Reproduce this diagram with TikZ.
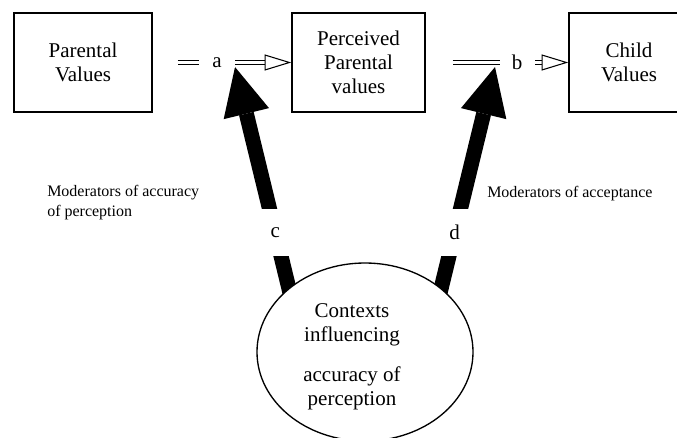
\documentclass[tikz,border=0pt]{standalone}
\usepackage{fontspec}
\setmainfont{Liberation Serif}
\usetikzlibrary{arrows.meta, shapes.geometric}
\pgfdeclarelayer{back}
\pgfsetlayers{back,main}
\newcommand{\valfont}{\fontsize{15.75pt}{18pt}\selectfont}
\newcommand{\modfont}{\fontsize{12pt}{15pt}\selectfont}

\begin{document}
\begin{tikzpicture}[x=0.75pt, y=-0.75pt,
    valbox/.style={draw, line width=1.1pt, minimum height=74.25pt, inner sep=0pt, align=center, font=\valfont},
    hollow/.style={double, line width=0.8pt, double distance=2.2pt, -{Triangle[open, length=20pt, width=12pt, line width=0.8pt]}},
    fat/.style={line width=11.25pt, -{Triangle[length=36pt, width=35pt, line width=0pt]}, shorten <=-10pt},
    gaplabel/.style={fill=white, inner sep=0pt, font=\valfont}]
    \useasboundingbox (0,0) rectangle (677,438);
    % value boxes
    \node[valbox, minimum width=103.5pt] (pv) at (83,62.5) {Parental\\Values};
    \node[valbox, minimum width=99.75pt] (ppv) at (358.5,62.5) {Perceived\\Parental\\values};
    \node[valbox, minimum width=90pt] (cv) at (629,62.5) {Child\\Values};
    % contexts
    \node[ellipse, draw, fill=white, line width=1pt, minimum width=162pt, minimum height=133.5pt, inner sep=0pt] (ctx) at (365,352) {};
    \node[align=center, font=\valfont] (ctxtext) at (352,357) {Contexts\\influencing\\[12pt]accuracy of\\perception};
    % transmission
    \draw[hollow, shorten <=18.75pt] (pv.east) -- node[gaplabel, minimum width=27pt, pos=0.464] (a) {a} (ppv.west);
    \draw[hollow, shorten <=20.25pt] (ppv.east) -- node[gaplabel, minimum width=26pt, pos=0.642] (b) {b} (cv.west);
    % moderators
    \coordinate (ctip) at (235,67);
    \coordinate (dtip) at (495,67);
    \begin{pgfonlayer}{back}
        \draw[fat] (ctx.140) -- node[gaplabel, pos=0.25, minimum width=24pt, minimum height=35pt] (c) {c} (ctip);
        \draw[fat] (ctx.40) -- node[gaplabel, pos=0.25, minimum width=24pt, minimum height=35pt] (d) {d} (dtip);
    \end{pgfonlayer}
    \node[anchor=west, align=left, font=\modfont, inner sep=0pt] (modacc) at (47,203) {Moderators of accuracy\\of perception};
    \node[anchor=west, font=\modfont, inner sep=0pt] (modacp) at (487,194) {Moderators of acceptance};
\end{tikzpicture}
\end{document}
